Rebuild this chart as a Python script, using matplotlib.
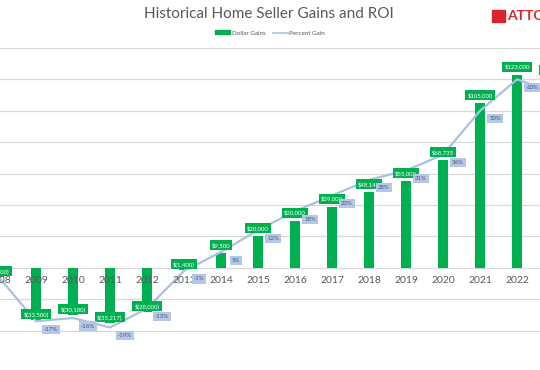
import numpy as np
import matplotlib
matplotlib.use("Agg")
import matplotlib.pyplot as plt
from matplotlib.patches import Patch, Rectangle
from matplotlib.lines import Line2D

plt.rcParams['font.family'] = ['Lato', 'DejaVu Sans']

years = ['2008', '2009', '2010', '2011', '2012', '2013', '2014', '2015',
         '2016', '2017', '2018', '2019', '2020', '2021', '2022', '2023']
dollar_gains = [-6000, -33500, -30100, -35217, -28000, -1400, 9500, 20000,
                30000, 39000, 48140, 55000, 68735, 105000, 123000, 121000]
percent_gain = [-3, -17, -16, -19, -13, -1, 5, 12, 18, 23, 28, 31, 36, 50, 60, 56]

green = '#00b050'
blue = '#a9c2e0'
label_blue = '#b4c7e7'
grey = '#595959'


def money(v):
    if v < 0:
        return '$({:,})'.format(-v)
    return '${:,}'.format(v)


fig = plt.figure(figsize=(5.4, 3.7), dpi=100)
ax = fig.add_axes([0, 8 / 370, 1, 314 / 370])
ax2 = ax.twinx()

x = np.arange(len(years))
ax.bar(x, dollar_gains, width=0.27, color=green, zorder=2)
ax.set_xlim(0.03, 14.62)
ax.set_ylim(-60000, 140000)
ax.set_yticks(np.arange(-60000, 140001, 20000))
ax.grid(axis='y', color='#d9d9d9', linewidth=0.9, zorder=0)
ax.set_axisbelow(True)

ax2.plot(x, percent_gain, color=blue, linewidth=1.6, zorder=3)
ax2.set_ylim(-30, 70)

for a in (ax, ax2):
    a.set_xticks([])
    a.tick_params(left=False, right=False, labelleft=False, labelright=False)
    for s in a.spines.values():
        s.set_visible(False)

# year labels sit on the zero line, over the bars
for i, yr in enumerate(years[:-1]):
    ax2.annotate(yr, (i, 0), xycoords=ax.transData, xytext=(0, -13),
                 textcoords='offset pixels', ha='center', va='center',
                 fontsize=7.5, color=grey, zorder=5)

# dollar labels
for i, v in enumerate(dollar_gains):
    dy = 8 if v >= 0 else 6
    ax2.annotate(money(v), (i, v), xycoords=ax.transData, xytext=(0, dy),
                 textcoords='offset pixels', ha='center', va='center',
                 fontsize=4.3, color='white', zorder=6,
                 bbox=dict(boxstyle='square,pad=0.35', fc=green, ec='none'))

# percent labels
for i, p in enumerate(percent_gain):
    ax2.annotate('{}%'.format(p), (i, p), xytext=(15, -8),
                 textcoords='offset pixels', ha='center', va='center',
                 fontsize=4.3, color='#44546a', zorder=6,
                 bbox=dict(boxstyle='square,pad=0.35', fc=label_blue, ec='none'))

fig.text(0.498, 0.962, 'Historical Home Seller Gains and ROI', ha='center',
         va='center', fontsize=11, color=grey)

handles = [Patch(color=green), Line2D([], [], color=blue, linewidth=1.2)]
fig.legend(handles, ['Dollar Gains', 'Percent Gain'], loc='center',
           bbox_to_anchor=(0.5, 1 - 33 / 370), ncol=2, frameon=False,
           fontsize=4.5, labelcolor=grey, handlelength=2.4, handleheight=0.6,
           columnspacing=1.2, handletextpad=0.2)

# logo
fig.patches.append(Rectangle((492 / 540, 1 - 22 / 370), 13 / 540, 12 / 370,
                             transform=fig.transFigure, color='#d9262c'))
fig.text(507 / 540, 1 - 16 / 370, 'ATTOM', ha='left', va='center',
         fontsize=10, fontweight='bold', color='#d9262c')

fig.savefig('out.png', dpi=100)
